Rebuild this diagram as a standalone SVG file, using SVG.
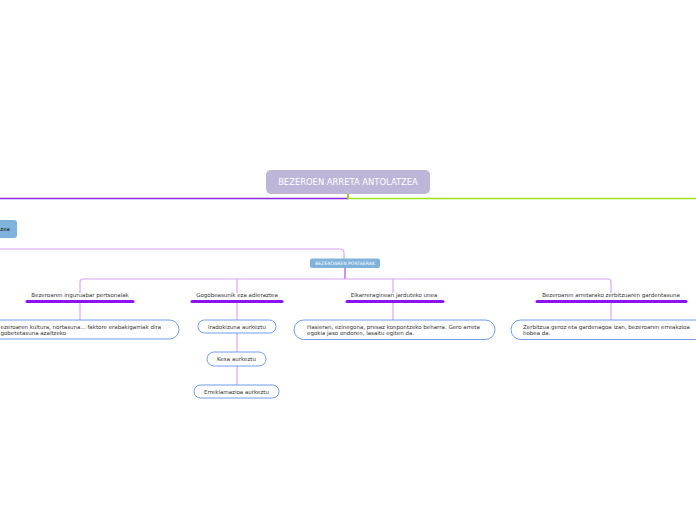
<svg xmlns="http://www.w3.org/2000/svg" width="696" height="520" viewBox="0 0 696 520">
<style>
.lbl{font-family:"DejaVu Sans",Verdana,sans-serif;font-size:5.5px;fill:#333}
.ptxt{font-family:"DejaVu Sans",Verdana,sans-serif;font-size:5.5px;fill:#333}
.pill{fill:#fff;stroke:#4a86e8;stroke-width:0.8}
.ul{stroke:#8c12f0;stroke-width:3;stroke-linecap:round}
.lc{fill:none;stroke:#d9a6f7;stroke-width:1.2}
</style>
<rect width="696" height="520" fill="#fff"/>
<g id="connectors">
<path d="M348 194 V198.5 H0" fill="none" stroke="#8a2be2" stroke-width="1.6"/>
<path d="M348 194 V198.5 H696" fill="none" stroke="#9be31a" stroke-width="1.6"/>
<path class="lc" d="M0 249 H340 Q344 249 344 253 V259"/>
<path d="M345 268 V279" stroke="#a64bf0" stroke-width="1.2"/>
<path class="lc" d="M80 293 V282 Q80 279 83 279 H608 Q611 279 611 282 V293"/>
<path class="lc" d="M237 279 V293 M393 279 V293"/>
<path class="lc" d="M80 302 V320 M237 302 V385 M393 302 V320 M611 302 V320"/>
</g>
<g id="root">
<rect x="266" y="170" width="164" height="24" rx="5" fill="#bdb6d9"/>
<text x="348" y="185" text-anchor="middle" font-family="DejaVu Sans,Verdana,sans-serif" font-size="8.4" fill="#fff">BEZEROEN ARRETA ANTOLATZEA</text>
</g>
<g id="left-node">
<rect x="-20" y="220" width="37" height="18" rx="3" fill="#80b3dc"/>
<text x="10" y="231" text-anchor="end" font-family="DejaVu Sans,Verdana,sans-serif" font-size="5.5" fill="#111">zea</text>
</g>
<g id="portaerak">
<rect x="310" y="258.5" width="70" height="9.5" rx="2" fill="#80b3dc"/>
<text x="345" y="265" text-anchor="middle" font-family="DejaVu Sans,Verdana,sans-serif" font-size="4.6" fill="#fff">BEZEROAREN PORTAERAK</text>
</g>
<g id="t1">
<text class="lbl" x="80" y="297" text-anchor="middle">Bezeroaren inguruabar pertsonalak</text>
<line class="ul" x1="27" y1="301.5" x2="133" y2="301.5"/>
</g>
<g id="t2">
<text class="lbl" x="237" y="297" text-anchor="middle">Gogobeasunik eza adieraztea</text>
<line class="ul" x1="192" y1="301.5" x2="282" y2="301.5"/>
</g>
<g id="t3">
<text class="lbl" x="394" y="297" text-anchor="middle">Elkarreraginean jarduteko unea</text>
<line class="ul" x1="347" y1="301.5" x2="443" y2="301.5"/>
</g>
<g id="t4">
<text class="lbl" x="611" y="297" text-anchor="middle">Bezeroaren arretarako zerbitzuaren gardentasuna</text>
<line class="ul" x1="537" y1="301.5" x2="686" y2="301.5"/>
</g>
<g id="c1">
<rect class="pill" x="-30" y="320" width="209" height="19" rx="9.5"/>
<text class="ptxt" x="0.5" y="328.5">ezeroaren kultura, nortasuna... faktore erabakigarriak dira</text>
<text class="ptxt" x="0.5" y="335">gobetetasuna azaltzeko</text>
</g>
<g id="c2a">
<rect class="pill" x="198" y="320" width="78" height="13" rx="6.5"/>
<text class="ptxt" x="237" y="328.5" text-anchor="middle">Iradokizuna aurkeztu</text>
</g>
<g id="c2b">
<rect class="pill" x="207" y="352" width="59" height="14" rx="7"/>
<text class="ptxt" x="236.5" y="361" text-anchor="middle">Kexa aurkeztu</text>
</g>
<g id="c2c">
<rect class="pill" x="194" y="385" width="85" height="13" rx="6.5"/>
<text class="ptxt" x="236.5" y="393.5" text-anchor="middle">Erreklamazioa aurkeztu</text>
</g>
<g id="c3">
<rect class="pill" x="294" y="320" width="201" height="19.5" rx="9.75"/>
<text class="ptxt" x="307" y="328.5">Hasieran, ezinegona, presaz konpontzeko beharra. Gero arreta</text>
<text class="ptxt" x="307" y="335">egokia jaso ondoren, lasaitu egiten da.</text>
</g>
<g id="c4">
<rect class="pill" x="511" y="320" width="200" height="19.5" rx="9.75"/>
<text class="ptxt" x="523" y="328.5">Zerbitzua geroz eta gardenagoa izan, bezeroaren erreakzioa</text>
<text class="ptxt" x="523" y="335">hobea da.</text>
</g>
</svg>
